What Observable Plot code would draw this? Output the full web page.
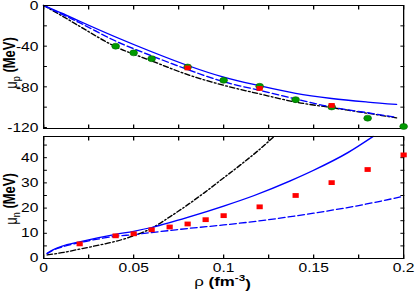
<!DOCTYPE html>
<html><head><meta charset="utf-8">
<script src="https://cdn.jsdelivr.net/npm/d3@7"></script>
<script src="https://cdn.jsdelivr.net/npm/@observablehq/plot@0.6"></script>
<style>
body{margin:0;background:#fff;}
#chart{position:relative;width:415px;height:299px;overflow:hidden;background:#fff;}
#chart svg{display:block;position:absolute;left:0;}
</style></head><body><div id="chart"></div>
<script>
// ---------- data ----------
// proton chemical potential (top panel)
const rhoTopSolid = [0, 0.01, 0.02, 0.04, 0.06, 0.08, 0.1, 0.12, 0.14, 0.16, 0.18, 0.196];
const muTopSolid  = [0, -7.5, -15.5, -31, -45.5, -59, -70.5, -79, -86.5, -91.5, -95, -97.3];
const rhoTopDash  = [0, 0.01, 0.02, 0.04, 0.06, 0.08, 0.1, 0.12, 0.14, 0.16, 0.18, 0.196];
const muTopDash   = [0, -8.5, -17, -35, -49.5, -63, -75, -83.5, -92, -100, -105.5, -110];
const rhoTopDot   = [0, 0.01, 0.02, 0.04, 0.06, 0.08, 0.1, 0.12, 0.14, 0.16, 0.18, 0.196];
const muTopDot    = [0, -10, -20.5, -40.5, -54.5, -68, -78.5, -87, -95, -100.5, -106, -110.5];
const rhoTopGreen = [0.04, 0.05, 0.06, 0.08, 0.1, 0.12, 0.14, 0.16, 0.18, 0.2];
const muTopGreen  = [-40, -46.6, -52.3, -60.5, -73.6, -79.5, -92.6, -99.8, -110.8, -119];
const rhoTopRed   = [0.08, 0.12, 0.16];
const muTopRed    = [-61.4, -81.6, -98.3];
// neutron chemical potential (bottom panel)
const rhoBotSolid = [0.002, 0.005, 0.01, 0.02, 0.03, 0.04, 0.05, 0.06, 0.07, 0.08, 0.1, 0.117, 0.137, 0.15, 0.169, 0.183];
const muBotSolid  = [2.1, 3.4, 4.8, 6.6, 8.2, 9.6, 10.8, 12.3, 14.2, 16.3, 20.8, 25, 30.8, 35, 42, 48.4];
const rhoBotDash  = [0.002, 0.005, 0.01, 0.02, 0.03, 0.04, 0.05, 0.06, 0.07, 0.08, 0.1, 0.125, 0.15, 0.175, 0.2];
const muBotDash   = [2.0, 3.2, 4.5, 6.3, 7.7, 8.8, 9.5, 10.3, 11.1, 11.9, 13.3, 15.4, 18, 21, 24.7];
const rhoBotDot   = [0.002, 0.01, 0.02, 0.03, 0.04, 0.05, 0.06, 0.07, 0.08, 0.09, 0.1, 0.11, 0.12, 0.128];
const muBotDot    = [1.4, 2.3, 3.7, 5.2, 6.8, 9, 12, 16.5, 21.3, 26.5, 32, 37.5, 43.3, 48.4];
const rhoBotRed   = [0.02, 0.04, 0.05, 0.06, 0.07, 0.08, 0.09, 0.1, 0.12, 0.14, 0.16, 0.18, 0.2];
const muBotRed    = [5.8, 9.0, 9.8, 11.4, 12.5, 13.7, 15.4, 17, 20.5, 25, 30.1, 35.3, 41.1];
// ticks
const xTicks      = [0, 0.025, 0.05, 0.075, 0.1, 0.125, 0.15, 0.175, 0.2];
const xTickLabels = [0, 0.05, 0.1, 0.15, 0.2];
const yTicksTop   = [-120, -100, -80, -60, -40, -20, 0];
const yLabelsTop  = [-120, -80, -40, 0];
const yTicksBot   = [0, 5, 10, 15, 20, 25, 30, 35, 40, 45];
const yLabelsBot  = [0, 10, 20, 30, 40];

// ---------- helpers ----------
const K = 1.3;            // horizontal stretch of the original figure
const W = 415 / K;
const tbl = (xs, ys) => xs.map((x, i) => ({rho: x, mu: ys[i]}));
const FONT = "'Liberation Sans', Arial, Helvetica, sans-serif";
const BLUE = "#0000ff";

function lines(solid, dash, dot) {
  return [
    Plot.line(dot,   {x: "rho", y: "mu", stroke: "black", strokeWidth: 1.3, strokeDasharray: "4,2,1.2,2", curve: "monotone-x"}),
    Plot.line(dash,  {x: "rho", y: "mu", stroke: BLUE, strokeWidth: 1.3, strokeDasharray: "5,2.6", curve: "monotone-x"}),
    Plot.line(solid, {x: "rho", y: "mu", stroke: BLUE, strokeWidth: 1.3, curve: "monotone-x"})
  ];
}
function boxTicks(yTicks) {
  return [
    Plot.frame({stroke: "black", strokeWidth: 1}),
    Plot.axisY({anchor: "left",  ticks: yTicks, tickSize: -3, tickFormat: () => "", label: null}),
    Plot.axisY({anchor: "right", ticks: yTicks, tickSize: -3, tickFormat: () => "", label: null}),
    Plot.axisX({anchor: "top",    ticks: xTicks, tickSize: -3.5, tickFormat: () => "", label: null}),
    Plot.axisX({anchor: "bottom", ticks: xTicks, tickSize: -3.5, tickFormat: () => "", label: null})
  ];
}
function stretch(svg, top, h) {
  svg.setAttribute("width", 415);
  svg.setAttribute("height", h);
  svg.setAttribute("viewBox", `0 0 ${W} ${h}`);
  svg.setAttribute("preserveAspectRatio", "none");
  svg.style.top = top + "px";
}
function addLabel(svg, x, y, main, sub, sup, rotate) {
  const t = d3.select(svg).append("text")
    .attr("transform", `translate(${x},${y})` + (rotate ? " rotate(-90)" : ""))
    .attr("text-anchor", "middle")
    .attr("font-family", FONT)
    .attr("font-size", 13)
    .attr("fill", "black");
  if (rotate) t.attr("dy", "0.35em");
  t.append("tspan").text(main);
  if (sub) {
    t.append("tspan").attr("font-size", 9).attr("dy", "0.3em").text(sub);
    t.append("tspan").attr("font-weight", "bold").attr("dy", "-0.3em").text(" (MeV)");
  } else {
    t.append("tspan").attr("font-weight", "bold").text(" (fm");
    t.append("tspan").attr("font-weight", "bold").attr("font-size", 9).attr("dy", "-0.55em").text(sup);
    t.append("tspan").attr("font-weight", "bold").attr("dy", "0.55em").text(")");
  }
}

const TOP_H = 132, BOT_H = 167;

const topPlot = Plot.plot({
  width: W, height: TOP_H,
  marginLeft: 43 / K, marginRight: 12 / K, marginTop: 5, marginBottom: 4,
  x: {domain: [0, 0.2]},
  y: {domain: [-121, 0]},
  style: {fontFamily: FONT, fontSize: "12px", background: "transparent", overflow: "visible", color: "black"},
  marks: [
    ...lines(tbl(rhoTopSolid, muTopSolid), tbl(rhoTopDash, muTopDash), tbl(rhoTopDot, muTopDot)),
    ...boxTicks(yTicksTop),
    Plot.axisY({anchor: "left", ticks: yLabelsTop, tickSize: 0, tickPadding: 4, dy: 1, tickFormat: d => String(d), label: null}),
    Plot.dot(tbl(rhoTopGreen, muTopGreen), {x: "rho", y: "mu", r: 3, fill: "#009a00", stroke: "#006400", strokeWidth: 0.5}),
    Plot.dot(tbl(rhoTopRed, muTopRed), {x: "rho", y: "mu", r: 2.7, symbol: "square", fill: "#ff0000"})
  ]
});

const botPlot = Plot.plot({
  width: W, height: BOT_H,
  marginLeft: 43 / K, marginRight: 12 / K, marginTop: 4, marginBottom: 41,
  x: {domain: [0, 0.2]},
  y: {domain: [0, 48.4]},
  style: {fontFamily: FONT, fontSize: "12px", background: "transparent", overflow: "visible", color: "black"},
  marks: [
    ...lines(tbl(rhoBotSolid, muBotSolid), tbl(rhoBotDash, muBotDash), tbl(rhoBotDot, muBotDot)),
    ...boxTicks(yTicksBot),
    Plot.axisY({anchor: "left", ticks: yLabelsBot, tickSize: 0, tickPadding: 4, tickFormat: d => String(d), label: null}),
    Plot.axisX({anchor: "bottom", ticks: xTickLabels, tickSize: 0, tickPadding: 5, tickFormat: d => String(d), label: null}),
    Plot.dot(tbl(rhoBotRed, muBotRed), {x: "rho", y: "mu", r: 2.7, symbol: "square", fill: "#ff0000"})
  ]
});

const chart = document.getElementById("chart");
chart.appendChild(topPlot);
chart.appendChild(botPlot);
stretch(topPlot, 0, TOP_H);
stretch(botPlot, 132, BOT_H);
addLabel(topPlot, 11 / K, 63, "μ", "p", null, true);
addLabel(botPlot, 11 / K, 67, "μ", "n", null, true);
addLabel(botPlot, 222.5 / K, 154, "ρ", null, "-3", false);
</script></body></html>
